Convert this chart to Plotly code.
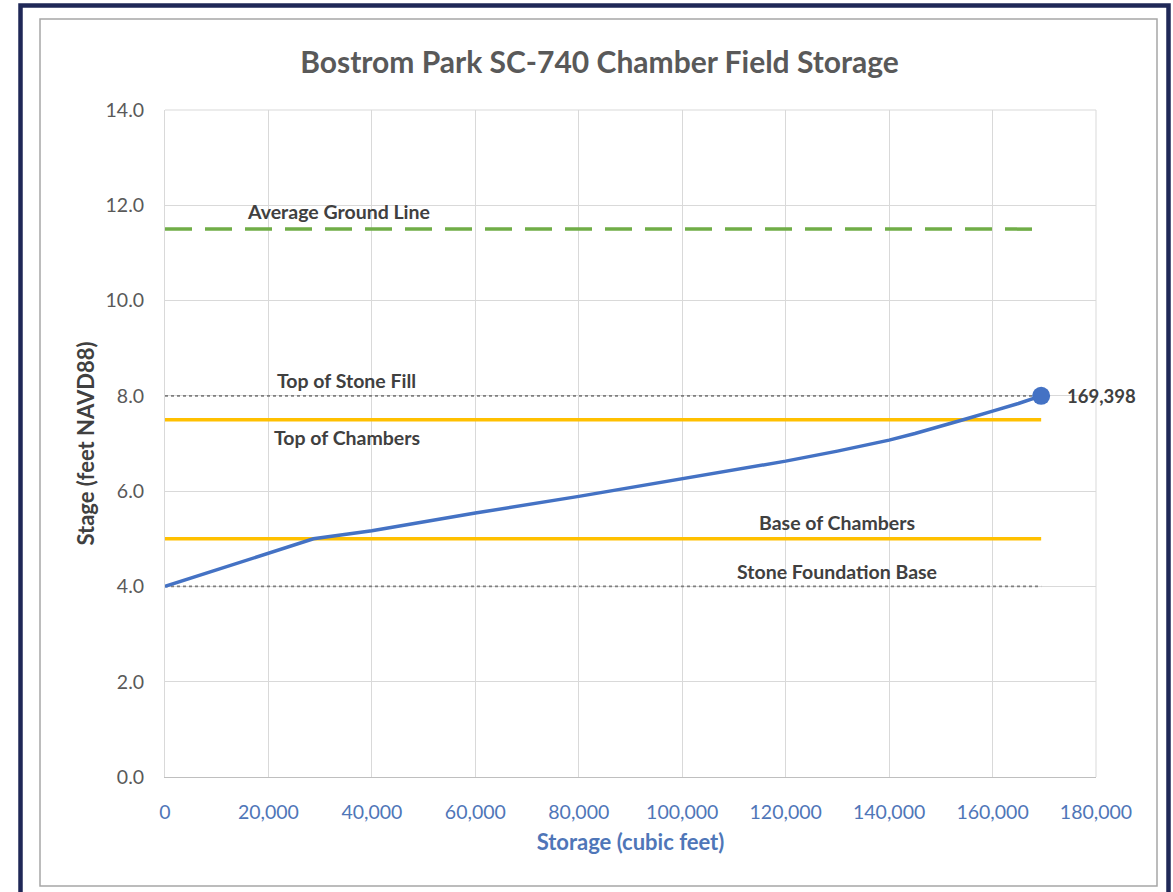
import plotly.graph_objects as go

# ---- data ----
storage_cf = [0, 28700, 40000, 50000, 60000, 80000, 100000, 120000, 130000, 140000,
              145000, 150000, 155000, 160000, 165000, 169398]
stage_ft = [4.0, 5.0, 5.17, 5.36, 5.54, 5.89, 6.26, 6.63, 6.84, 7.07,
            7.21, 7.36, 7.52, 7.68, 7.84, 8.0]
max_storage = 169398

ref_names = ["Average Ground Line", "Top of Stone Fill", "Top of Chambers", "Base of Chambers", "Stone Foundation Base"]
ref_stages = [11.5, 8.0, 7.5, 5.0, 4.0]
ref_kinds = ["ground", "stone", "chamber", "chamber", "stone"]
label_x = [33600, 35000, 35200, 130000, 130000]
label_y = [11.87, 8.32, 7.12, 5.34, 4.31]

x_ticks = list(range(0, 180001, 20000))
y_ticks = [0, 2, 4, 6, 8, 10, 12, 14]

FONT = "Lato"
W, H = 1173, 892
L, R, T, B = 165, 77, 110, 115
PW, PH = W - L - R, H - T - B

def px(xp):
    return (xp - L) / PW

def py(yp):
    return (H - B - yp) / PH

styles = {
    "ground": dict(color="#70AD47", width=3.5, dash="27px,13px"),
    "stone": dict(color="#7F7F7F", width=1.8, dash="dot"),
    "chamber": dict(color="#FFC000", width=3.5, dash="solid"),
}

fig = go.Figure()

for name, s, k in zip(ref_names, ref_stages, ref_kinds):
    fig.add_trace(go.Scatter(x=[0, max_storage], y=[s, s], mode="lines",
                             line=styles[k], name=name, hoverinfo="skip"))

fig.add_trace(go.Scatter(x=storage_cf, y=stage_ft, mode="lines",
                         line=dict(color="#4472C4", width=3.5), name="Storage"))
fig.add_trace(go.Scatter(x=[storage_cf[-1]], y=[stage_ft[-1]], mode="markers",
                         marker=dict(color="#4472C4", size=18), name="Max"))

for name, lx, ly in zip(ref_names, label_x, label_y):
    fig.add_annotation(x=lx, y=ly, text="<b>%s</b>" % name, showarrow=False,
                       font=dict(family=FONT, size=19.5, color="#404040"))

fig.add_annotation(x=storage_cf[-1], y=stage_ft[-1], text="<b>{:,}</b>".format(max_storage),
                   showarrow=False, xanchor="left", xshift=24,
                   font=dict(family=FONT, size=18.5, color="#404040"))

# borders
fig.add_shape(type="rect", xref="paper", yref="paper",
              x0=px(20.5), x1=px(1168.5), y0=py(905), y1=py(5.5),
              line=dict(color="#1F2857", width=4.5), layer="below")
fig.add_shape(type="rect", xref="paper", yref="paper",
              x0=px(40), x1=px(1157), y0=py(886), y1=py(19),
              line=dict(color="#A6A6A6", width=1.5), layer="below")
fig.add_shape(type="line", xref="paper", yref="paper", x0=1, x1=1, y0=0, y1=1,
              line=dict(color="#D9D9D9", width=1), layer="below")
fig.add_shape(type="line", xref="paper", yref="paper", x0=0, x1=1, y0=1, y1=1,
              line=dict(color="#D9D9D9", width=1), layer="below")

fig.update_layout(
    width=W, height=H,
    margin=dict(l=L, r=R, t=T, b=B),
    paper_bgcolor="white", plot_bgcolor="white",
    showlegend=False,
    title=dict(text="<b>Bostrom Park SC-740 Chamber Field Storage</b>",
               x=599.5 / W, xanchor="center", y=1 - 62 / H, yanchor="middle",
               font=dict(family=FONT, size=30, color="#595959")),
    font=dict(family=FONT),
)
fig.update_xaxes(range=[0, 180000], tickvals=x_ticks, tickformat=",",
                 showgrid=True, gridcolor="#D9D9D9", gridwidth=1,
                 zeroline=False, showline=True, linecolor="#BFBFBF", mirror=False,
                 ticks="", ticklabelstandoff=18,
                 tickfont=dict(family=FONT, size=19.5, color="#4F76B8"),
                 title=dict(text="<b>Storage (cubic feet)</b>", standoff=12,
                            font=dict(family=FONT, size=22, color="#4F76B8")))
fig.update_yaxes(range=[0, 14], tickvals=y_ticks, tickformat=".1f",
                 showgrid=True, gridcolor="#D9D9D9", gridwidth=1,
                 zeroline=False, showline=True, linecolor="#D9D9D9",
                 ticks="", ticklabelstandoff=16,
                 tickfont=dict(family=FONT, size=19.5, color="#595959"),
                 title=dict(text="<b>Stage (feet NAVD88)</b>", standoff=4,
                            font=dict(family=FONT, size=22, color="#404040")))

fig.write_html("out.html", config={"displayModeBar": False},
               post_script="document.body.style.margin='0';")
